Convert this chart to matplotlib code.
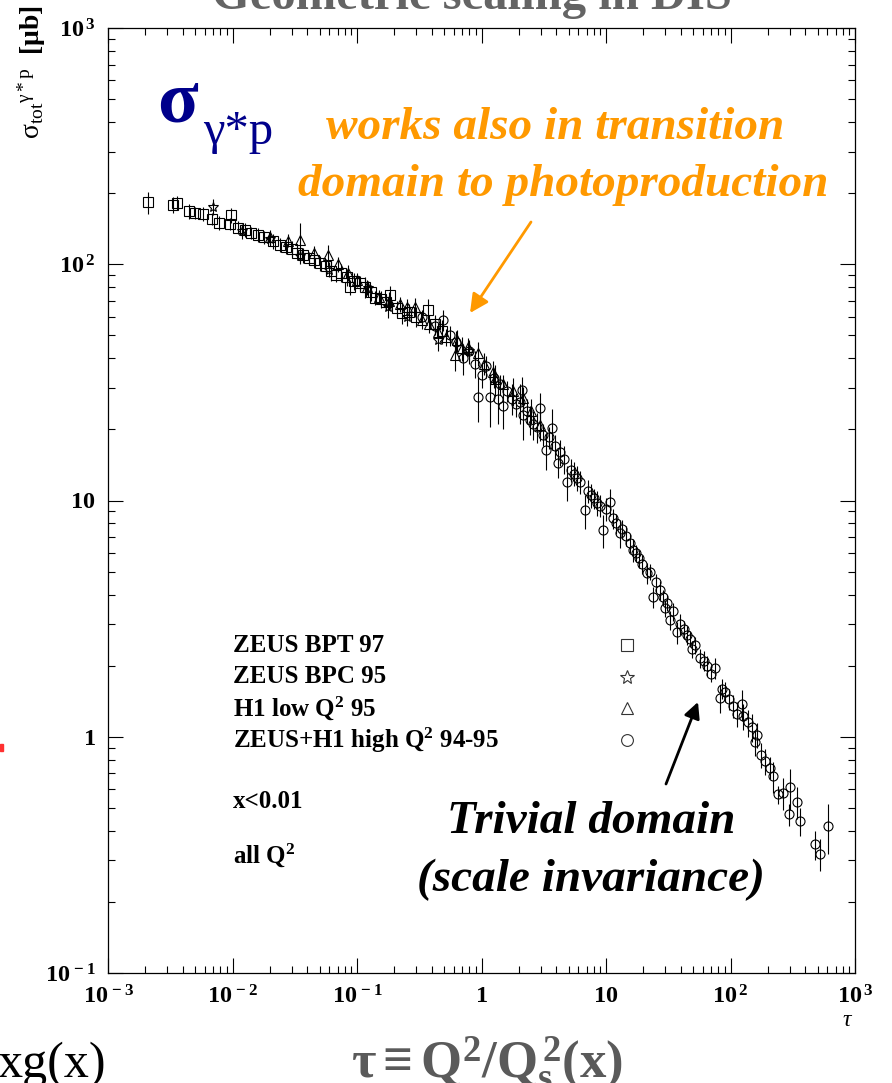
import numpy as np
import matplotlib
matplotlib.use("Agg")
import matplotlib.pyplot as plt
from matplotlib.ticker import LogLocator, FuncFormatter, NullFormatter
from matplotlib.patches import Rectangle

plt.rcParams['font.family'] = ['Liberation Serif', 'DejaVu Serif']
plt.rcParams['mathtext.fontset'] = 'custom'
plt.rcParams['mathtext.rm'] = 'Liberation Serif'
plt.rcParams['mathtext.it'] = 'Liberation Serif:italic'
plt.rcParams['mathtext.bf'] = 'Liberation Serif:bold'

# ZEUS BPT 97 (squares)
bpt_tau = [0.0021, 0.0033, 0.0036, 0.0045, 0.0050, 0.0058, 0.0068, 0.0078, 0.0097, 0.0095,
           0.011, 0.0125, 0.014, 0.016, 0.018, 0.021, 0.024, 0.027, 0.030, 0.033,
           0.037, 0.041, 0.045, 0.050, 0.056, 0.062, 0.068, 0.075, 0.083, 0.088,
           0.095, 0.105, 0.115, 0.13, 0.14, 0.155, 0.17, 0.184, 0.21, 0.23,
           0.26, 0.30, 0.37, 0.42, 0.48]
bpt_sig = [183, 178, 182, 168, 165, 163, 155, 150, 161, 148,
           143, 140, 136, 133, 130, 125, 121, 118, 116, 112,
           109, 106, 104, 101, 98, 94, 90, 92, 88, 80,
           85, 83, 80, 76, 72, 71, 69, 74, 65, 62,
           63, 60, 64, 56, 52]
bpt_err = [20, 14, 12, 12, 10, 11, 9, 10, 12, 9,
           9, 10, 8, 9, 8, 9, 8, 8, 9, 7,
           8, 7, 8, 7, 7, 9, 6, 8, 7, 6,
           7, 6, 8, 6, 5, 6, 5, 7, 5, 6,
           5, 6, 7, 5, 6]

# ZEUS BPC 95 (stars)
bpc_tau = [0.0070, 0.012, 0.020, 0.035, 0.060, 0.122, 0.178, 0.25, 0.45, 0.8]
bpc_sig = [175, 138, 128, 108, 95, 79, 66, 60, 48, 43]
bpc_err = [14, 10, 9, 8, 7, 6, 7, 5, 5, 5]

# H1 low Q2 95 (triangles)
h1_tau = [0.020, 0.028, 0.035, 0.045, 0.058, 0.070, 0.085, 0.10, 0.12, 0.15,
          0.18, 0.22, 0.25, 0.29, 0.33, 0.38, 0.445, 0.52, 0.61, 0.63,
          0.70, 0.78, 0.93, 1.05, 1.23, 1.28, 1.5, 1.8, 2.15, 2.5, 2.95]
h1_sig = [130, 126, 127, 112, 109, 100, 92, 86, 80, 73,
          70, 68, 66, 66, 58, 56, 51.6, 49, 41.3, 47.7,
          44, 44.7, 42, 38, 35, 32.6, 31, 29, 27.2, 24, 20.9]
h1_err = [9, 8, 22, 8, 12, 7, 7, 6, 6, 5,
          6, 5, 5, 6, 5, 5, 5, 4, 6, 5,
          5, 4, 5, 4, 4, 5, 3, 4, 3, 3, 3]

# ZEUS+H1 high Q2 94-95 (circles)
hq_tau = [0.33, 0.42, 0.49, 0.56, 0.62, 0.71, 0.80, 0.88, 0.93, 1.00,
          1.08, 1.17, 1.25, 1.36, 1.42, 1.48, 1.6, 1.75, 1.9, 2.05,
          2.13, 2.15, 2.3, 2.45, 2.6, 2.8, 2.95, 3.1, 3.3, 3.5,
          3.7, 3.9, 4.1, 4.3, 4.6, 4.9, 5.2, 5.5, 5.8, 6.2,
          6.8, 7.2, 7.6, 8.0, 8.5, 9.0, 9.5, 10.0, 10.7, 11.3,
          12.0, 12.9, 13.5, 14.5, 15.5, 16.5, 17.5, 18.5, 19.5, 21.3,
          22.5, 23.7, 25.0, 27.3, 28.5, 29.8, 31.0, 32.7, 34.5, 37.3,
          39.0, 42.0, 44.5, 47.0, 49.4, 52.0, 57.0, 61.0, 65.0, 70.0,
          75.0, 82.0, 86.0, 90.0, 97.0, 104.0, 112.0, 123.0, 125.0, 137.0,
          150.0, 163.0, 157.0, 175.0, 189.0, 207.0, 220.0, 240.0, 263.0, 300.0,
          295.0, 340.0, 360.0, 477.0, 520.0, 610.0]
hq_sig = [60, 55, 58, 50, 47, 40, 43, 38, 27.4, 34,
          37, 27.4, 33, 27, 31, 25, 29, 27, 25.5, 26,
          29.4, 23, 24, 22, 21, 20.5, 24.6, 19, 16.4, 18.5,
          20.3, 17, 14.4, 16, 15, 12, 13.5, 13, 12.5, 12,
          9.1, 11, 10.5, 10.2, 9.8, 9.5, 7.5, 9.2, 9.9, 8.4,
          8.0, 7.3, 7.6, 7.1, 6.6, 6.2, 6.0, 5.7, 5.4, 4.93,
          5.0, 3.9, 4.5, 4.18, 3.9, 3.5, 3.7, 3.12, 3.4, 2.77,
          3.0, 2.85, 2.7, 2.6, 2.35, 2.45, 2.16, 2.1, 2.0, 1.85,
          1.95, 1.46, 1.6, 1.55, 1.45, 1.35, 1.25, 1.37, 1.22, 1.15,
          1.1, 1.02, 0.95, 0.84, 0.79, 0.74, 0.68, 0.57, 0.58, 0.61,
          0.47, 0.53, 0.44, 0.35, 0.32, 0.42]
hq_err = [4, 5, 6, 5, 5, 6, 4, 5, 6, 4,
          4, 7, 3, 6, 3, 5, 3, 4, 3, 5,
          4, 5, 3, 3, 3, 3, 4, 2, 3, 2,
          4, 2, 2, 2, 2, 2, 1.5, 1.5, 1.5, 1.3,
          1.5, 1.2, 1.2, 1.0, 1.2, 1.0, 1.2, 1.0, 1.3, 0.8,
          0.8, 1.0, 0.7, 0.7, 0.6, 0.7, 0.5, 0.5, 0.5, 0.5,
          0.4, 0.4, 0.4, 0.4, 0.3, 0.3, 0.3, 0.3, 0.3, 0.3,
          0.3, 0.25, 0.25, 0.2, 0.2, 0.2, 0.2, 0.2, 0.2, 0.15,
          0.2, 0.2, 0.15, 0.15, 0.15, 0.15, 0.15, 0.2, 0.15, 0.15,
          0.15, 0.12, 0.12, 0.1, 0.1, 0.08, 0.1, 0.05, 0.09, 0.12,
          0.05, 0.08, 0.06, 0.05, 0.05, 0.1]

legend_names = ['ZEUS BPT 97', 'ZEUS BPC 95', r'H1 low Q$^{\mathbf{2}}$ 95',
                r'ZEUS+H1 high Q$^{\mathbf{2}}$ 94-95']
legend_marks = ['s', '*', '^', 'o']

W, H = 892, 1083


def fx(px):
    return px / W


def fy(py):
    return 1 - py / H


fig = plt.figure(figsize=(W / 100, H / 100), dpi=100)
ax = fig.add_axes([fx(108), fy(973), fx(855) - fx(108), fy(28) - fy(973)])

style = dict(mfc='none', mec='k', ecolor='k', elinewidth=0.8, capsize=0,
             mew=0.8, linestyle='none')
ax.errorbar(bpt_tau, bpt_sig, yerr=bpt_err, marker='s', ms=6.5, **style)
ax.errorbar(bpc_tau, bpc_sig, yerr=bpc_err, marker='*', ms=7.5, **style)
ax.errorbar(h1_tau, h1_sig, yerr=h1_err, marker='^', ms=6.5, **style)
ax.errorbar(hq_tau, hq_sig, yerr=hq_err, marker='o', ms=6.5, **style)

ax.set_xscale('log')
ax.set_yscale('log')
ax.set_xlim(1e-3, 1e3)
ax.set_ylim(1e-1, 1e3)


def tick_fmt(v, pos):
    e = int(round(np.log10(v)))
    if e == 0:
        return r'$\mathbf{1}$'
    if e == 1:
        return r'$\mathbf{10}$'
    return r'$\mathbf{10^{\,%d}}$' % e


for axis in (ax.xaxis, ax.yaxis):
    axis.set_major_locator(LogLocator(base=10, numticks=10))
    axis.set_minor_locator(LogLocator(base=10, subs=np.arange(2, 10), numticks=10))
    axis.set_major_formatter(FuncFormatter(tick_fmt))
    axis.set_minor_formatter(NullFormatter())

ax.tick_params(which='both', direction='in', top=True, right=True, width=0.8)
ax.tick_params(which='major', length=10.5, labelsize=17.5)
ax.tick_params(which='minor', length=5)
ax.tick_params(axis='x', pad=9)
ax.tick_params(axis='y', pad=9)
for s in ax.spines.values():
    s.set_linewidth(0.9)

# legend block
for i, (name, m) in enumerate(zip(legend_names, legend_marks)):
    yy = 0.347 - i * 0.0335
    ax.text(0.167, yy, name, transform=ax.transAxes, fontsize=18,
            fontweight='bold', va='center')
    ax.plot([0.695], [yy], marker=m, ms=10 if m == '*' else 8.5, mfc='none',
            mec='#333333', mew=0.8, transform=ax.transAxes)
ax.text(0.167, 0.181, 'x<0.01', transform=ax.transAxes, fontsize=18,
        fontweight='bold', va='center')
ax.text(0.167, 0.125, r'all Q$^{\mathbf{2}}$', transform=ax.transAxes,
        fontsize=18, fontweight='bold', va='center')

# axis titles
fig.text(fx(32), fy(5),
         r'$\mathrm{\sigma_{tot}{}^{\gamma*p}}\ \ \mathbf{[\mu b]}$',
         rotation=90, ha='center', va='top', fontsize=20)
fig.text(fx(848), fy(1020), r'$\tau$', ha='center', va='center', fontsize=17)

# slide texts
fig.text(fx(472), fy(9), 'Geometric scaling in DIS', ha='center',
         va='baseline', fontsize=35, fontweight='bold', color='#646464')
fig.text(fx(487), fy(1078), r'$\mathbf{\tau \equiv Q^2/Q_s^{\,2}(x)}$',
         ha='center', va='baseline', fontsize=38, color='#5a5a5a')
fig.text(fx(106), fy(1077), 'xg(x)', ha='right', va='baseline', fontsize=36)
fig.patches.append(Rectangle((0, fy(751)), fx(3), 7 / H, color='#ff3030',
                             transform=fig.transFigure, figure=fig))

fig.text(fx(157), fy(121), 'σ', ha='left', va='baseline', fontsize=54,
         fontweight='bold', color='#00008b')
fig.text(fx(203), fy(144), 'γ*p', ha='left', va='baseline', fontsize=35,
         color='#00008b')

orange = '#ff9900'
big = dict(ha='center', va='center', fontsize=34, fontweight='bold',
           style='italic')
fig.text(fx(555), fy(128), 'works also in transition', color=orange, **big)
fig.text(fx(563), fy(185), 'domain to photoproduction', color=orange, **big)
fig.text(fx(591), fy(822), 'Trivial domain', color='black', **big)
fig.text(fx(591), fy(880), '(scale invariance)', color='black', **big)

ax.annotate('', xy=(fx(470), fy(313)), xytext=(fx(531), fy(222)),
            xycoords='figure fraction', textcoords='figure fraction',
            arrowprops=dict(arrowstyle='-|>', color=orange, lw=2,
                            mutation_scale=28, shrinkA=0, shrinkB=0))
ax.annotate('', xy=(fx(698), fy(702)), xytext=(fx(666), fy(784)),
            xycoords='figure fraction', textcoords='figure fraction',
            arrowprops=dict(arrowstyle='-|>', color='black', lw=2,
                            mutation_scale=24, shrinkA=0, shrinkB=0))

fig.savefig('out.png', dpi=100)
